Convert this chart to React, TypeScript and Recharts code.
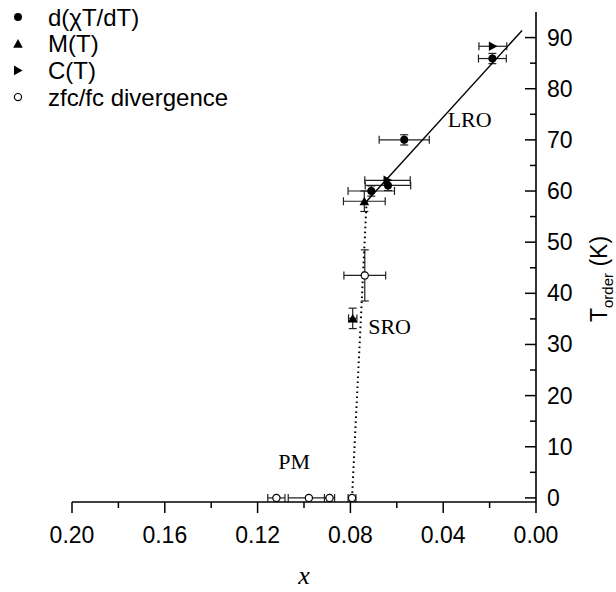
import { ComposedChart, Scatter, XAxis, YAxis, ErrorBar, ReferenceDot } from "recharts";

// x = composition, t = ordering temperature (K), ex / et = error half-widths
const dchiPoints = [
  { x: 0.0188, t: 85.9, ex: 0.006, et: 1 },
  { x: 0.0568, t: 70.0, ex: 0.0108, et: 1 },
  { x: 0.0638, t: 61.1, ex: 0.0098, et: 1 },
  { x: 0.071, t: 60.0, ex: 0.01, et: 1 },
];
const magPoints = [
  { x: 0.074, t: 58.0, ex: 0.009, et: 2 },
  { x: 0.079, t: 35.1, ex: 0.0018, et: 2 },
];
const heatPoints = [
  { x: 0.0186, t: 88.3, ex: 0.006 },
  { x: 0.064, t: 62.1, ex: 0.0098 },
];
const zfcPoints = [
  { x: 0.0738, t: 43.5, ex: 0.009, et: 5 },
  { x: 0.1119, t: 0, ex: 0.0037 },
  { x: 0.0979, t: 0, ex: 0.0089 },
  { x: 0.089, t: 0, ex: 0.0022 },
  { x: 0.0793, t: 0, ex: 0.0017 },
];

// guide lines: long-range order fit and short-range order boundary
const lroLine = [
  { x: 0.073, t: 58 },
  { x: 0.006, t: 91.4 },
];
const sroLine = [
  { x: 0.0793, t: 0 },
  { x: 0.073, t: 58 },
];

const regionLabels = [
  { text: "LRO", x: 0.0286, t: 74.1 },
  { text: "SRO", x: 0.0631, t: 33.5 },
  { text: "PM", x: 0.1042, t: 7.1 },
];

const xTicks = [0.2, 0.18, 0.16, 0.14, 0.12, 0.1, 0.08, 0.06, 0.04, 0.02, 0];
const yTicks = [0, 5, 10, 15, 20, 25, 30, 35, 40, 45, 50, 55, 60, 65, 70, 75, 80, 85, 90];

const legendItems = [
  { name: "d(\u03c7T/dT)", symbol: "dot" },
  { name: "M(T)", symbol: "up" },
  { name: "C(T)", symbol: "right" },
  { name: "zfc/fc divergence", symbol: "open" },
];

const SANS = "'Liberation Sans', Arial, sans-serif";
const SERIF = "'Liberation Serif', 'Times New Roman', serif";

function Marker({ kind, cx, cy }: { kind: string; cx: number; cy: number }) {
  if (kind === "dot") return <circle cx={cx} cy={cy} r={4} fill="#000" />;
  if (kind === "up")
    return <polygon points={`${cx - 4.8},${cy + 4} ${cx + 4.8},${cy + 4} ${cx},${cy - 4.6}`} fill="#000" />;
  if (kind === "right")
    return <polygon points={`${cx - 4},${cy - 4.8} ${cx - 4},${cy + 4.8} ${cx + 4.6},${cy}`} fill="#000" />;
  return <circle cx={cx} cy={cy} r={3.6} fill="#fff" stroke="#000" strokeWidth={1.2} />;
}

const shapeOf = (kind: string) => (p: any) => <Marker kind={kind} cx={p.cx} cy={p.cy} />;
const noShape = () => <g />;

function XTick(props: any) {
  const { x, y, payload } = props;
  const major = Math.round(payload.value * 100) % 4 === 0;
  return (
    <g>
      <line x1={x} y1={y} x2={x} y2={y + (major ? 11 : 6)} stroke="#000" strokeWidth={1.5} />
      {major && (
        <text x={x} y={y + 41} textAnchor="middle" fontSize={23} fontFamily={SANS} fill="#000">
          {payload.value.toFixed(2)}
        </text>
      )}
    </g>
  );
}

function YTick(props: any) {
  const { x, y, payload } = props;
  const major = payload.value % 10 === 0;
  return (
    <g>
      <line x1={x - (major ? 11 : 6)} y1={y} x2={x} y2={y} stroke="#000" strokeWidth={1.5} />
      {major && (
        <text x={x + 11} y={y + 8} textAnchor="start" fontSize={23} fontFamily={SANS} fill="#000">
          {payload.value}
        </text>
      )}
    </g>
  );
}

function YTitle(props: any) {
  const vb = props.viewBox;
  const tx = vb.x + 71;
  const ty = 279;
  return (
    <text transform={`translate(${tx},${ty}) rotate(-90)`} textAnchor="middle" fontSize={23} fontFamily={SANS} fill="#000">
      <tspan>T</tspan>
      <tspan fontSize={15} dy={6}>order</tspan>
      <tspan dy={-6}> (K)</tspan>
    </text>
  );
}

function XTitle(props: any) {
  const vb = props.viewBox;
  return (
    <text x={vb.x + vb.width / 2} y={vb.y + 82} textAnchor="middle" fontSize={26} fontStyle="italic" fontFamily={SERIF} fill="#000">
      x
    </text>
  );
}

function LegendBox() {
  return (
    <svg width={260} height={112} style={{ position: "absolute", left: 0, top: 0 }}>
      {legendItems.map((item, i) => {
        const cy = 17 + i * 26.7;
        return (
          <g key={item.name}>
            <Marker kind={item.symbol} cx={18} cy={cy} />
            <text x={48} y={cy + 8.5} fontSize={24} fontFamily={SANS} fill="#000">
              {item.name}
            </text>
          </g>
        );
      })}
    </svg>
  );
}

export default function App() {
  return (
    <div style={{ position: "absolute", left: 0, top: 0, width: 616, height: 592, background: "#fff" }}>
      <ComposedChart width={616} height={592} margin={{ top: 12, right: 20, bottom: 30, left: 72 }}>
        <XAxis
          type="number"
          dataKey="x"
          domain={[0, 0.2]}
          reversed
          allowDataOverflow
          ticks={xTicks}
          interval={0}
          tick={<XTick />}
          tickSize={0}
          tickMargin={0}
          height={60}
          axisLine={{ stroke: "#000", strokeWidth: 1.6 }}
          tickLine={false}
          label={{ content: (p: any) => <XTitle {...p} /> }}
        />
        <YAxis
          type="number"
          dataKey="t"
          orientation="right"
          domain={[-0.8, 95]}
          allowDataOverflow
          ticks={yTicks}
          interval={0}
          tick={<YTick />}
          tickSize={0}
          tickMargin={0}
          width={60}
          axisLine={{ stroke: "#000", strokeWidth: 1.6 }}
          tickLine={false}
          label={{ content: (p: any) => <YTitle {...p} /> }}
        />
        <Scatter
          data={sroLine}
          shape={noShape}
          line={{ stroke: "#000", strokeWidth: 2, strokeDasharray: "1.6 3.4" }}
          legendType="none"
          isAnimationActive={false}
        />
        <Scatter
          data={lroLine}
          shape={noShape}
          line={{ stroke: "#000", strokeWidth: 1.4 }}
          legendType="none"
          isAnimationActive={false}
        />
        <Scatter data={zfcPoints} shape={shapeOf("open")} isAnimationActive={false}>
          <ErrorBar dataKey="ex" direction="x" width={4} stroke="#222" strokeWidth={1.2} />
          <ErrorBar dataKey="et" direction="y" width={4} stroke="#222" strokeWidth={1.2} />
        </Scatter>
        <Scatter data={magPoints} shape={shapeOf("up")} isAnimationActive={false}>
          <ErrorBar dataKey="ex" direction="x" width={4} stroke="#222" strokeWidth={1.2} />
          <ErrorBar dataKey="et" direction="y" width={4} stroke="#222" strokeWidth={1.2} />
        </Scatter>
        <Scatter data={heatPoints} shape={shapeOf("right")} isAnimationActive={false}>
          <ErrorBar dataKey="ex" direction="x" width={4} stroke="#222" strokeWidth={1.2} />
        </Scatter>
        <Scatter data={dchiPoints} shape={shapeOf("dot")} isAnimationActive={false}>
          <ErrorBar dataKey="ex" direction="x" width={4} stroke="#222" strokeWidth={1.2} />
          <ErrorBar dataKey="et" direction="y" width={4} stroke="#222" strokeWidth={1.2} />
        </Scatter>
        {regionLabels.map((r) => (
          <ReferenceDot
            key={r.text}
            x={r.x}
            y={r.t}
            r={0}
            fill="none"
            stroke="none"
            label={{ value: r.text, position: "center", fontSize: 22, fontFamily: SERIF, fill: "#000" }}
          />
        ))}
      </ComposedChart>
      <LegendBox />
    </div>
  );
}
